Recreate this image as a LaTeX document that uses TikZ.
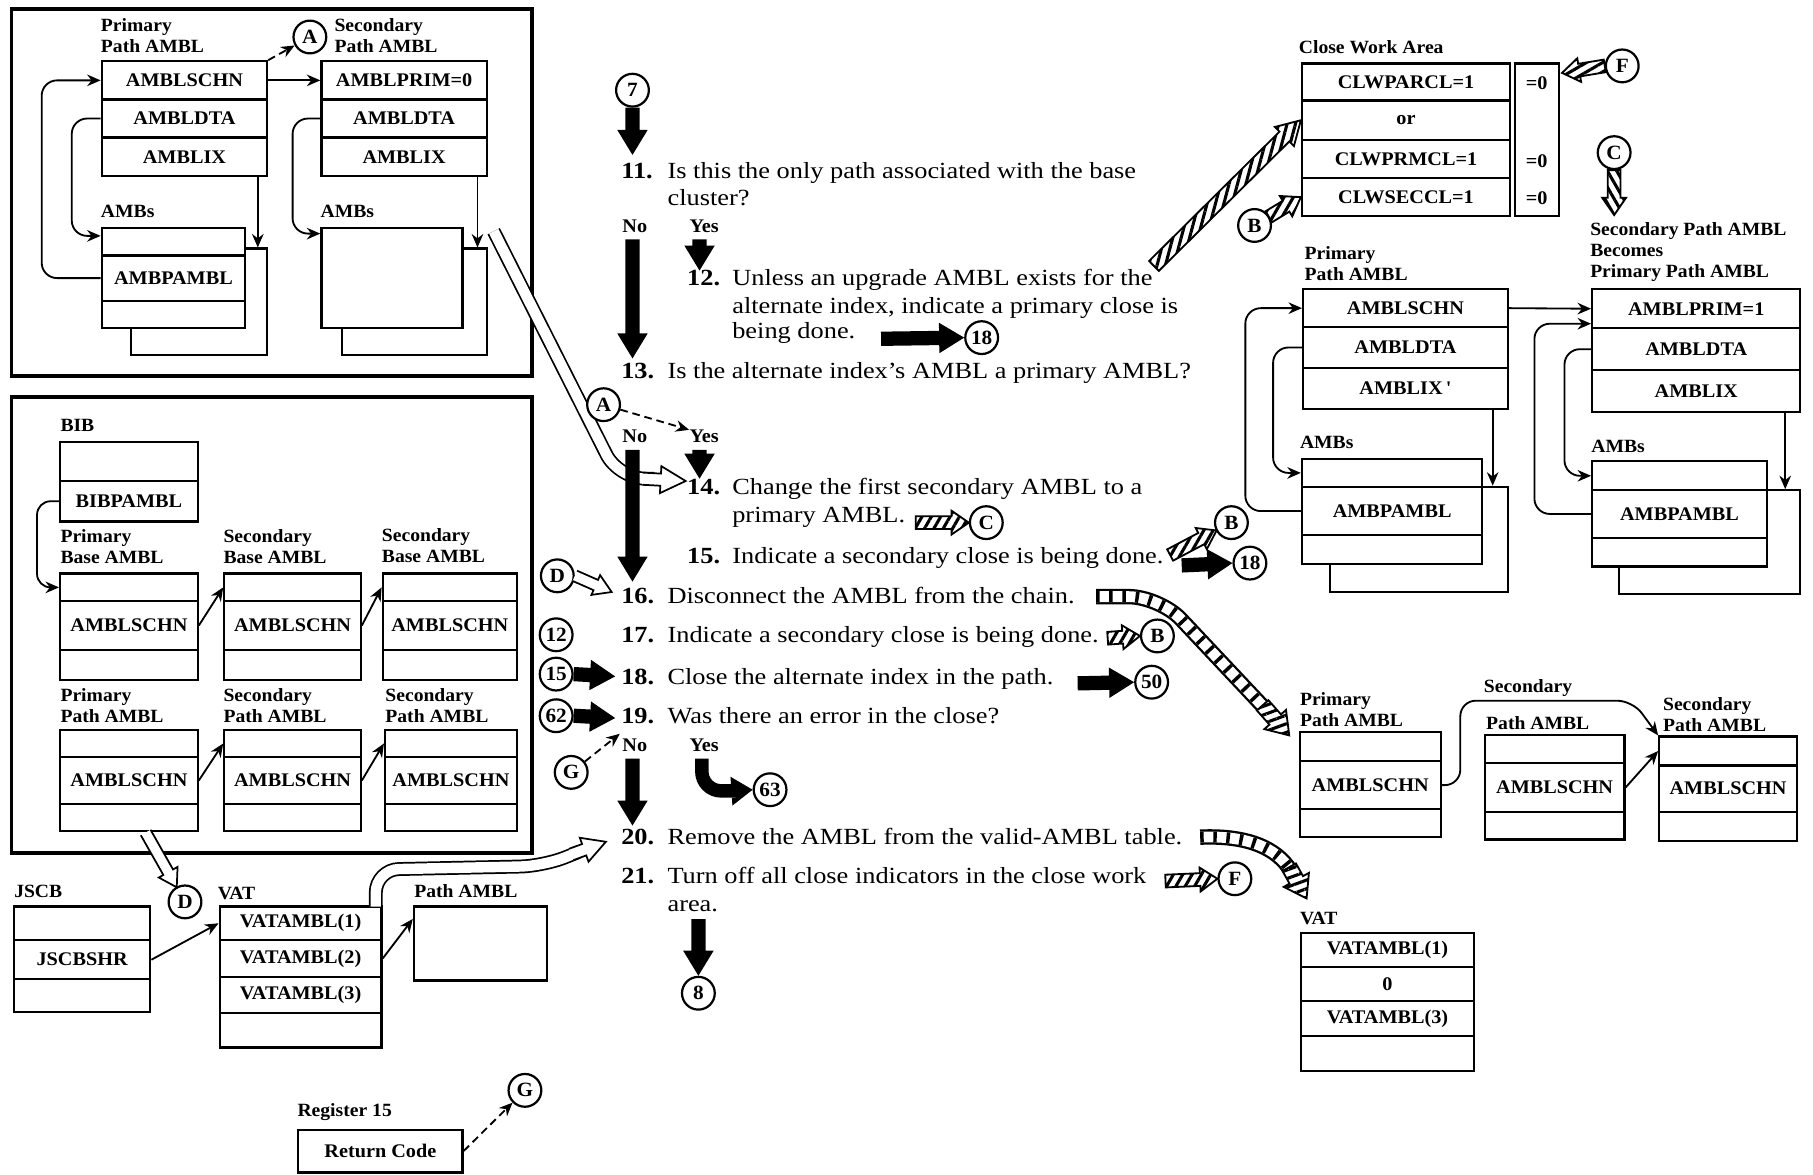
\documentclass[tikz,border=0pt]{standalone}
\usepackage{fontspec}
\newfontfamily\stepfamily{Liberation Serif}[FakeStretch=1.14]
\newfontfamily\boxfamily{Liberation Serif}[FakeStretch=1.05]
\usetikzlibrary{arrows.meta,calc,patterns.meta}

\newcommand\steptxt{\stepfamily\fontsize{12}{13.5}\selectfont}
\newcommand\stepnum{\stepfamily\bfseries\fontsize{12}{13.5}\selectfont}
\newcommand\boxtxt{\boxfamily\bfseries\fontsize{10}{11.5}\selectfont}
\newcommand\lbltxt{\boxfamily\bfseries\fontsize{9.7}{10.8}\selectfont}
\newcommand\circtxt{\boxfamily\bfseries\fontsize{10.5}{11.5}\selectfont}

\tikzset{
  cellbox/.style={draw, line width=1.15pt, fill=white, inner sep=0pt, font=\boxtxt},
  lbl/.style={anchor=west, align=left, inner sep=0pt, font=\lbltxt},
  txt/.style={anchor=base west, inner sep=0pt, font=\steptxt},
  num/.style={anchor=base west, inner sep=0pt, font=\stepnum},
  yn/.style={anchor=base, inner sep=0pt, font=\boxtxt},
  circ/.style={circle, draw, line width=1.15pt, fill=white, minimum size=17pt, inner sep=0pt, font=\circtxt},
  conn/.style={line width=0.95pt, -{Stealth[length=7pt,width=6pt]}},
  dashconn/.style={conn, dash pattern=on 4pt off 2.5pt},
  frame/.style={line width=2pt},
  fatpoly/.style={fill=black},
  hatch/.style={preaction={fill=white}, pattern={Lines[angle=#1,distance=4.2pt,line width=1.6pt]}, draw, line width=0.95pt, line join=miter},
  hatch/.default=60,
  hollow/.style={fill=white, draw, line width=0.9pt, line join=miter},
}

% one row of a control-block box: name, x1, y1, x2, y2, text
\newcommand\rowcell[6]{%
  \node[cellbox, minimum width={(#4-#2)*0.6pt}, minimum height={(#5-#3)*0.6pt}] (#1)
    at ({(#2+#4)/2},{(#3+#5)/2}) {#6};}

% wide arrow outline: [style]{from}{tip}{shaft half width}{head length}{head half width}
\newcommand\arrowpoly[6][fatpoly]{%
  \path (#2) coordinate (ap1) (#3) coordinate (ap2);
  \path ($(ap2)!#5!(ap1)$) coordinate (ap3);
  \path[#1] ($(ap1)!#4!90:(ap2)$) -- ($(ap3)!#4!90:(ap2)$) -- ($(ap3)!#6!90:(ap2)$) -- (ap2)
    -- ($(ap3)!#6!-90:(ap2)$) -- ($(ap3)!#4!-90:(ap2)$) -- ($(ap1)!#4!-90:(ap2)$) -- cycle;}
% same outline with an open tail (hollow arrows)
\newcommand\openhead[6][hollow]{%
  \path (#2) coordinate (ap1) (#3) coordinate (ap2);
  \path ($(ap2)!#5!(ap1)$) coordinate (ap3);
  \path[#1] ($(ap1)!#4!90:(ap2)$) -- ($(ap3)!#4!90:(ap2)$) -- ($(ap3)!#6!90:(ap2)$) -- (ap2)
    -- ($(ap3)!#6!-90:(ap2)$) -- ($(ap3)!#4!-90:(ap2)$) -- ($(ap1)!#4!-90:(ap2)$);}
\newcommand\fatarrow[2]{\arrowpoly{#1}{#2}{3.7pt}{13pt}{7.9pt}}
\newcommand\hatcharrow[3]{\arrowpoly[hatch=#1]{#2}{#3}{3.3pt}{9pt}{6.2pt}}
% curved striped band and curved hollow band
\newcommand\hband[2][]{%
  \draw[line width=8pt,#1] #2;
  \draw[white,line width=5.6pt,#1] #2;
  \draw[line width=5.6pt,dash pattern=on 1.8pt off 5pt,#1] #2;}
\newcommand\oband[2][]{\draw[double=white, double distance=5.4pt, line width=0.9pt,#1] #2;}

\begin{document}
\begin{tikzpicture}[x=0.6pt,y=-0.6pt]
\useasboundingbox (0,0) rectangle (1568,1016);

% ================= upper left: path AMBLs and their AMBs
\draw[frame] (10,8) rectangle (460,325);
\node[lbl] (ltp) at (87,31) {Primary\\Path AMBL};
\node[lbl] (lts) at (289,31) {Secondary\\Path AMBL};
\rowcell{tpa}{88}{53}{231}{86}{AMBLSCHN}
\rowcell{tpb}{88}{86}{231}{119}{AMBLDTA}
\rowcell{tpc}{88}{119}{231}{152}{AMBLIX}
\rowcell{tsa}{278}{53}{421}{86}{AMBLPRIM=0}
\rowcell{tsb}{278}{86}{421}{119}{AMBLDTA}
\rowcell{tsc}{278}{119}{421}{152}{AMBLIX}
\node[circ] (cA) at (268,32) {A};
\node[lbl] (ltamb1) at (87,183) {AMBs};
\node[lbl] (ltamb2) at (277,183) {AMBs};
\rowcell{tbk1}{113}{215}{231}{307}{}
\rowcell{tfa}{88}{197}{212}{221}{}
\rowcell{tfb}{88}{221}{212}{260}{AMBPAMBL}
\rowcell{tfc}{88}{260}{212}{284}{}
\rowcell{tbk2}{296}{215}{421}{307}{}
\rowcell{tsf}{278}{197}{400}{284}{}
\draw[conn] (tpa.east) -- (tsa.west);
\draw[dashconn] (tpa.north east) -- (cA);
\draw[conn,rounded corners=8pt] (tfb.west) -- ++(-51,0) |- (tpa.west);
\draw[conn,rounded corners=8pt] (tpb.west) -- ++(-25,0) |- ([yshift=3pt]tfa.west);
\draw[conn,rounded corners=8pt] (tsb.west) -- ++(-24,0) |- ([yshift=-3.6pt]tsf.north west);
\coordinate (tdn1) at ($(tpc.south east)+(-9,0)$);
\draw[conn] (tdn1) -- (tdn1 |- tbk1.north);
\coordinate (tdn2) at ($(tsc.south east)+(-9,0)$);
\draw[conn] (tdn2) -- (tdn2 |- tbk2.north);

% ================= lower left: BIB and base / path AMBL chains
\draw[frame] (10,343) rectangle (460,738);
\node[lbl] (lbib) at (52,368) {BIB};
\rowcell{bib1}{52}{382}{171}{416}{}
\rowcell{bib2}{52}{416}{171}{451}{BIBPAMBL}
\node[lbl] (lpb) at (52,473) {Primary\\Base AMBL};
\node[lbl] (lsb1) at (193,473) {Secondary\\Base AMBL};
\node[lbl] (lsb2) at (330,472) {Secondary\\Base AMBL};
\rowcell{pba}{52}{496}{171}{520}{}
\rowcell{pbb}{52}{520}{171}{562}{AMBLSCHN}
\rowcell{pbc}{52}{562}{171}{588}{}
\rowcell{sbaa}{194}{496}{312}{520}{}
\rowcell{sbab}{194}{520}{312}{562}{AMBLSCHN}
\rowcell{sbac}{194}{562}{312}{588}{}
\rowcell{sbba}{331}{496}{447}{520}{}
\rowcell{sbbb}{331}{520}{447}{562}{AMBLSCHN}
\rowcell{sbbc}{331}{562}{447}{588}{}
\node[lbl] (lpp) at (52,610) {Primary\\Path AMBL};
\node[lbl] (lsp1) at (193,610) {Secondary\\Path AMBL};
\node[lbl] (lsp2) at (333,610) {Secondary\\Path AMBL};
\rowcell{ppa}{52}{631}{171}{655}{}
\rowcell{ppb}{52}{655}{171}{695}{AMBLSCHN}
\rowcell{ppc}{52}{695}{171}{719}{}
\rowcell{spaa}{194}{631}{312}{655}{}
\rowcell{spab}{194}{655}{312}{695}{AMBLSCHN}
\rowcell{spac}{194}{695}{312}{719}{}
\rowcell{spba}{333}{631}{447}{655}{}
\rowcell{spbb}{333}{655}{447}{695}{AMBLSCHN}
\rowcell{spbc}{333}{695}{447}{719}{}
\draw[conn,rounded corners=7pt] (bib2.west) -- ++(-19,0) |- (pba.west);
\draw[conn] (pbb.east) -- (sbaa.west);
\draw[conn] (sbab.east) -- (sbba.west);
\draw[conn] (ppb.east) -- (spaa.west);
\draw[conn] (spab.east) -- (spba.west);

% ================= bottom left: JSCB, VAT, path AMBL, register 15
\node[lbl] (ljscb) at (12,771) {JSCB};
\rowcell{ja}{12}{784}{130}{813}{}
\rowcell{jb}{12}{813}{130}{847}{JSCBSHR}
\rowcell{jc}{12}{847}{130}{875}{}
\node[circ] (cD1) at (160,780) {D};
\node[lbl] (lvat) at (188,773) {VAT};
\rowcell{va}{190}{784}{330}{813}{VATAMBL(1)}
\rowcell{vb}{190}{813}{330}{845}{VATAMBL(2)}
\rowcell{vc}{190}{845}{330}{876}{VATAMBL(3)}
\rowcell{vd}{190}{876}{330}{906}{}
\node[lbl] (lpab) at (358,771) {Path AMBL};
\rowcell{pab}{358}{784}{473}{848}{}
\draw[conn] (jb.east) -- (va.west);
\draw[conn] (vb.east) -- ([yshift=-7pt]pab.north west);
\node[lbl] (lreg) at (257,962) {Register 15};
\rowcell{rc}{258}{977}{400}{1014}{Return Code}
\node[circ] (cG2) at (454,943) {G};
\draw[dashconn] (rc.east) -- (cG2);
% hollow arrow from the primary path AMBL to D
\coordinate (sD1) at (126,720);
\path ($(cD1)!8.7pt!(sD1)$) coordinate (tD1);
\openhead{sD1}{tD1}{2.9pt}{9pt}{5.6pt}

% ================= hollow bands into steps 14 and 20
\oband[rounded corners=14pt]{(427,200) -- (535,414) -- (566,414)}
\openhead{556,414}{593,416}{3.15pt}{13pt}{7pt}
\oband[rounded corners=12pt]{(325,784) -- (325,752) -- (470,749) -- (500,737)}
\openhead{494,739}{524,728}{3.15pt}{12pt}{6.6pt}

% ================= processing steps
\node[circ] (c7) at (547,78) {7};
\node[num] (n11) at (537,154) {11.};
\node[txt] (t11a) at (577,154) {Is this the only path associated with the base};
\node[txt] (t11b) at (577,178) {cluster?};
\node[yn] (no11) at (549,201) {No};
\node[yn] (yes11) at (609,201) {Yes};
\node[num] (n12) at (594,247) {12.};
\node[txt] (t12a) at (633,247) {Unless an upgrade AMBL exists for the};
\node[txt] (t12b) at (633,271) {alternate index, indicate a primary close is};
\node[txt] (t12c) at (633,293) {being done.};
\node[circ] (c18a) at (849,292) {18};
\node[num] (n13) at (537,327) {13.};
\node[txt] (t13) at (577,327) {Is the alternate index’s AMBL a primary AMBL?};
\node[circ] (cA2) at (522,350) {A};
\node[yn] (no13) at (549,383) {No};
\node[yn] (yes13) at (609,383) {Yes};
\node[num] (n14) at (594,428) {14.};
\node[txt] (t14a) at (633,428) {Change the first secondary AMBL to a};
\node[txt] (t14b) at (633,452) {primary AMBL.};
\node[circ] (cC1) at (853,452) {C};
\node[num] (n15) at (594,487) {15.};
\node[txt] (t15) at (633,487) {Indicate a secondary close is being done.};
\node[circ] (cB1) at (1065,452) {B};
\node[circ] (c18b) at (1081,487) {18};
\node[circ] (cD2) at (482,498) {D};
\node[num] (n16) at (537,522) {16.};
\node[txt] (t16) at (577,522) {Disconnect the AMBL from the chain.};
\node[circ] (c12) at (481,549) {12};
\node[num] (n17) at (537,556) {17.};
\node[txt] (t17) at (577,556) {Indicate a secondary close is being done.};
\node[circ] (cB2) at (1001,550) {B};
\node[circ] (c15) at (481,583) {15};
\node[num] (n18) at (537,592) {18.};
\node[txt] (t18) at (577,592) {Close the alternate index in the path.};
\node[circ] (c50) at (996,590) {50};
\node[circ] (c62) at (481,619) {62};
\node[num] (n19) at (537,626) {19.};
\node[txt] (t19) at (577,626) {Was there an error in the close?};
\node[circ] (cG1) at (494,668) {G};
\node[yn] (no19) at (549,650) {No};
\node[yn] (yes19) at (609,650) {Yes};
\node[circ] (c63) at (666,683) {63};
\node[num] (n20) at (537,730) {20.};
\node[txt] (t20) at (577,730) {Remove the AMBL from the valid-AMBL table.};
\node[num] (n21) at (537,764) {21.};
\node[txt] (t21a) at (577,764) {Turn off all close indicators in the close work};
\node[txt] (t21b) at (577,788) {area.};
\node[circ] (cF1) at (1068,760) {F};
\node[circ] (c8) at (604,859) {8};

% solid flow arrows
\coordinate (e7) at (547,134);
\fatarrow{c7.south}{e7}
\coordinate (s11n) at (547,207); \coordinate (e11n) at (547,310);
\fatarrow{s11n}{e11n}
\coordinate (s11y) at (605,207); \coordinate (e11y) at (605,234);
\fatarrow{s11y}{e11y}
\coordinate (s12) at (762,293);
\fatarrow{s12}{c18a.west}
\coordinate (s13n) at (547,389); \coordinate (e13n) at (547,503);
\fatarrow{s13n}{e13n}
\coordinate (s13y) at (605,389); \coordinate (e13y) at (605,414);
\fatarrow{s13y}{e13y}
\coordinate (s15) at (1022,489);
\fatarrow{s15}{c18b.west}
\coordinate (e15) at (532,585);
\fatarrow{c15.east}{e15}
\coordinate (s18) at (932,591);
\fatarrow{s18}{c50.west}
\coordinate (e62) at (532,621);
\fatarrow{c62.east}{e62}
\coordinate (s19n) at (547,656); \coordinate (e19n) at (547,714);
\fatarrow{s19n}{e19n}
\coordinate (s19y) at (607,656); \coordinate (y63) at (640,684);
\draw[line width=7pt, rounded corners=10pt] (s19y) |- (y63);
\arrowpoly{636,684}{c63.west}{3.5pt}{11pt}{7.5pt}
\coordinate (s21) at (604,795);
\fatarrow{s21}{c8.north}

% dashed connector links
\draw[dashconn] (cA2) -- (yes13.north west);
\draw[dashconn] (cG1) -- ($(n19.south west)+(-1,8)$);

% hollow arrow from D into step 16
\coordinate (e16) at (529,512);
\openhead{cD2.east}{e16}{2.9pt}{9pt}{5.6pt}

% striped arrows to the connectors
\coordinate (s14) at (792,452);
\hatcharrow{60}{s14}{cC1.west}
\coordinate (s15b) at (1012,480);
\path ($(cB1)!8.7pt!(s15b)$) coordinate (tB1);
\hatcharrow{60}{s15b}{tB1}
\coordinate (s17) at (958,552);
\hatcharrow{60}{s17}{cB2.west}
\coordinate (s21b) at (1008,762);
\hatcharrow{60}{s21b}{cF1.west}

% ================= upper right: close work area
\node[lbl] (lcwa) at (1123,41) {Close Work Area};
\rowcell{wa}{1126}{55}{1306}{87}{CLWPARCL=1}
\rowcell{wb}{1126}{87}{1306}{121}{or}
\rowcell{wc}{1126}{121}{1306}{154}{CLWPRMCL=1}
\rowcell{wd}{1126}{154}{1306}{187}{CLWSECCL=1}
\rowcell{wz}{1310}{55}{1348}{187}{}
\node[font=\boxtxt, inner sep=0pt] (z1) at (1329,72) {=0};
\node[font=\boxtxt, inner sep=0pt] (z2) at (1329,139) {=0};
\node[font=\boxtxt, inner sep=0pt] (z3) at (1329,171) {=0};
\node[circ] (cF2) at (1403,57) {F};
\node[circ] (cB3) at (1085,195) {B};
\node[circ] (cC2) at (1396,132) {C};
\coordinate (fz) at ($(wz.north east)+(2,9)$);
\hatcharrow{30}{cF2.west}{fz}
\path ($(cB3)!8.7pt!(wd.west)$) coordinate (sB3);
\hatcharrow{60}{sB3}{wd.west}
\coordinate (s12b) at (998,230);
\arrowpoly[hatch=75]{s12b}{wb.west}{3.6pt}{12pt}{7pt}
\coordinate (eC2) at (1396,186);
\hatcharrow{-60}{cC2.south}{eC2}

% ================= right: AMBLs after the change
\node[lbl] (lrp) at (1128,228) {Primary\\Path AMBL};
\node[lbl] (lbec) at (1375,218) {Secondary Path AMBL\\Becomes\\Primary Path AMBL};
\rowcell{rpa}{1127}{250}{1304}{283}{AMBLSCHN}
\rowcell{rpb}{1127}{283}{1304}{318}{AMBLDTA}
\rowcell{rpc}{1127}{318}{1304}{354}{AMBLIX\,'}
\rowcell{rsa}{1377}{250}{1557}{284}{AMBLPRIM=1}
\rowcell{rsb}{1377}{284}{1557}{320}{AMBLDTA}
\rowcell{rsc}{1377}{320}{1557}{356}{AMBLIX}
\node[lbl] (lramb1) at (1124,383) {AMBs};
\node[lbl] (lramb2) at (1376,386) {AMBs};
\rowcell{rbk1}{1150}{421}{1304}{512}{}
\rowcell{rfa}{1126}{397}{1282}{421}{}
\rowcell{rfb}{1126}{421}{1282}{463}{AMBPAMBL}
\rowcell{rfc}{1126}{463}{1282}{488}{}
\rowcell{rbk2}{1400}{424}{1557}{514}{}
\rowcell{rga}{1377}{399}{1528}{424}{}
\rowcell{rgb}{1377}{424}{1528}{465}{AMBPAMBL}
\rowcell{rgc}{1377}{465}{1528}{490}{}
\draw[conn] (rpa.east) -- (rsa.west);
\coordinate (rdn1) at ($(rpc.south east)+(-14,0)$);
\draw[conn] (rdn1) -- (rdn1 |- rbk1.north);
\coordinate (rdn2) at ($(rsc.south east)+(-14,0)$);
\draw[conn] (rdn2) -- (rdn2 |- rbk2.north);
\draw[conn,rounded corners=8pt] (rfb.west) -- ++(-48,0) |- (rpa.west);
\draw[conn,rounded corners=8pt] (rpb.west) -- ++(-25,0) |- (rfa.west);
\draw[conn,rounded corners=8pt] (rgb.west) -- ++(-49,0) |- ([yshift=3pt]rsa.south west);
\draw[conn,rounded corners=8pt] (rsb.west) -- ++(-23,0) |- (rga.west);

% ================= lower right: chain after disconnect, VAT after removal
\node[lbl] (llp) at (1124,614) {Primary\\Path AMBL};
\node[lbl] (llq1) at (1283,595) {Secondary};
\node[lbl] (llq2) at (1285,625) {Path AMBL};
\node[lbl] (llr) at (1438,618) {Secondary\\Path AMBL};
\rowcell{lpa}{1124}{633}{1246}{658}{}
\rowcell{lpb}{1124}{658}{1246}{700}{AMBLSCHN}
\rowcell{lpc}{1124}{700}{1246}{724}{}
\rowcell{lqa}{1284}{636}{1405}{660}{}
\rowcell{lqb}{1284}{660}{1405}{702}{AMBLSCHN}
\rowcell{lqc}{1284}{702}{1405}{726}{}
\rowcell{lra}{1435}{637}{1554}{662}{}
\rowcell{lrb}{1435}{662}{1554}{702}{AMBLSCHN}
\rowcell{lrc}{1435}{702}{1554}{727}{}
\draw[conn,rounded corners=8pt] (lpb.east) -- ++(16,0) |- (1412,606) -- (lra.north west);
\draw[conn] (lqb.east) -- (lra.west);
\node[lbl] (lvat2) at (1124,794) {VAT};
\rowcell{ua}{1125}{807}{1275}{836}{VATAMBL(1)}
\rowcell{ub}{1125}{836}{1275}{866}{0}
\rowcell{uc}{1125}{866}{1275}{896}{VATAMBL(3)}
\rowcell{ud}{1125}{896}{1275}{926}{}

% striped curved arrows from steps 16 and 20
\hband[rounded corners=16pt]{(948,516) -- (1003,516) -- (1098,617)}
\arrowpoly[hatch=20]{1092,610}{1115,636}{4pt}{11pt}{7.5pt}
\hband{(1038,724) .. controls (1085,722) and (1108,737) .. (1118,756)}
\arrowpoly[hatch=20]{1115,750}{1130,777}{4pt}{11pt}{7.5pt}

\end{tikzpicture}
\end{document}
